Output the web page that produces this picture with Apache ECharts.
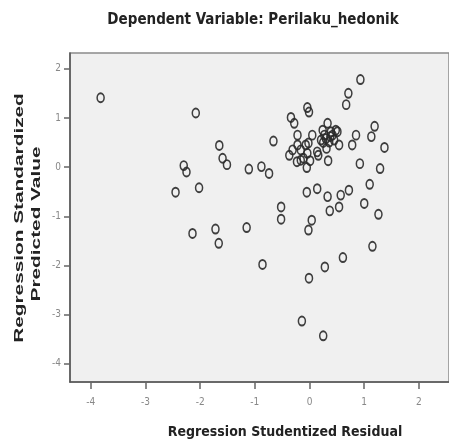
<!DOCTYPE html>
<html>
<head>
<meta charset="utf-8">
<title>Dependent Variable: Perilaku_hedonik</title>
<script src="https://cdn.jsdelivr.net/npm/echarts@6/dist/echarts.min.js"></script>
<style>
    html, body { margin: 0; padding: 0; background: #fff; }
    #charts { width: 449px; height: 444px; }
</style>
</head>
<body>
<div id="charts"></div>
<script>
"use strict";

// studentized residual (x) vs standardized predicted value (y)
var residual = [
    -3.82, -2.08, -1.65, -1.59, -1.51, -2.30, -2.25, -2.45, -2.02, -1.11,
    -0.88, -0.74, -0.66, -0.52, -0.52, -2.14, -1.72, -1.66, -1.15, -0.86,
    -0.05, 0.14, 0.33, 0.57, 0.54, 0.37, 0.72, 0.04, -0.02, 1.00,
    1.10, 1.26, 1.29, 0.92, 1.15, 0.61, 0.28, -0.01, -0.14, 0.25,
    0.93, 0.71, 0.67, -0.04, -0.01, -0.34, -0.28, 1.19, 1.13, 0.85,
    0.78, 0.54, 0.51, 1.37, 0.33, 0.48, 0.39, 0.24, 0.21, 0.30,
    0.36, 0.31, 0.14, 0.05, -0.02, -0.22, -0.22, -0.31, -0.37, -0.16,
    -0.04, -0.11, 0.34, -0.23, 0.01, 0.16, 0.42, 0.27, -0.16, -0.05,
    -0.07, 0.25, 0.38, 0.45
];
var predicted = [
    1.41, 1.10, 0.44, 0.18, 0.05, 0.03, -0.10, -0.51, -0.42, -0.04,
    0.01, -0.13, 0.53, -0.81, -1.06, -1.35, -1.26, -1.55, -1.23, -1.98,
    -0.51, -0.44, -0.60, -0.57, -0.81, -0.89, -0.47, -1.08, -1.28, -0.74,
    -0.35, -0.96, -0.03, 0.07, -1.61, -1.84, -2.03, -2.26, -3.13, -3.43,
    1.78, 1.50, 1.27, 1.21, 1.12, 1.01, 0.89, 0.83, 0.62, 0.65,
    0.45, 0.45, 0.72, 0.40, 0.89, 0.75, 0.72, 0.75, 0.55, 0.58,
    0.51, 0.38, 0.31, 0.65, 0.49, 0.65, 0.45, 0.35, 0.24, 0.35,
    0.28, 0.18, 0.13, 0.11, 0.13, 0.24, 0.65, 0.65, 0.14, -0.01,
    0.45, 0.50, 0.62, 0.55
];
var xTicks = [-4, -3, -2, -1, 0, 1, 2];
var yTicks = [-4, -3, -2, -1, 0, 1, 2];

var points = [];
for (var i = 0; i < residual.length; i++) {
    points.push([residual[i], predicted[i]]);
}

var narrow = '"Liberation Sans Narrow", "DejaVu Sans Condensed", "Liberation Sans", sans-serif';

var dom = document.getElementById("charts");
var myChart = echarts.init(dom, null, { renderer: 'canvas' });
var option = {
    animation: false,
    backgroundColor: '#fff',
    grid: {
        left: 70,
        top: 53,
        right: -4,
        bottom: 62,
        show: true,
        backgroundColor: '#f0f0f0',
        borderColor: '#8a8a8a',
        borderWidth: 1.5
    },
    xAxis: {
        type: 'value',
        min: -4.38,
        max: 2.55,
        splitLine: { show: false },
        axisLine: { show: true, onZero: false, lineStyle: { color: '#555', width: 1.5 } },
        axisTick: { show: true, length: 7, customValues: xTicks, lineStyle: { color: '#666', width: 1.5 } },
        axisLabel: { customValues: xTicks, color: '#888', fontSize: 10, margin: 15, fontFamily: narrow }
    },
    yAxis: {
        type: 'value',
        min: -4.37,
        max: 2.32,
        splitLine: { show: false },
        axisLine: { show: true, onZero: false, lineStyle: { color: '#555', width: 1.5 } },
        axisTick: { show: true, length: 6, customValues: yTicks, lineStyle: { color: '#666', width: 1.5 } },
        axisLabel: { customValues: yTicks, color: '#888', fontSize: 10, margin: 9, fontFamily: narrow }
    },
    graphic: [
        {
            type: 'text',
            x: 253, y: 20,
            style: {
                text: 'Dependent Variable: Perilaku_hedonik',
                font: 'bold 15px ' + narrow,
                fill: '#222',
                textAlign: 'center',
                textVerticalAlign: 'middle'
            }
        },
        {
            type: 'text',
            x: 285, y: 432,
            style: {
                text: 'Regression Studentized Residual',
                font: 'bold 14px ' + narrow,
                fill: '#222',
                textAlign: 'center',
                textVerticalAlign: 'middle'
            }
        },
        {
            type: 'text',
            x: 19, y: 218,
            rotation: Math.PI / 2,
            scaleX: 1.6,
            style: {
                text: 'Regression Standardized',
                font: 'bold 13px "Liberation Sans", Arial, sans-serif',
                fill: '#222',
                textAlign: 'center',
                textVerticalAlign: 'middle'
            }
        },
        {
            type: 'text',
            x: 36, y: 224,
            rotation: Math.PI / 2,
            scaleX: 1.6,
            style: {
                text: 'Predicted Value',
                font: 'bold 13px "Liberation Sans", Arial, sans-serif',
                fill: '#222',
                textAlign: 'center',
                textVerticalAlign: 'middle'
            }
        }
    ],
    series: [
        {
            type: 'scatter',
            data: points,
            symbol: 'circle',
            symbolSize: [7, 9],
            itemStyle: {
                color: 'rgba(0,0,0,0)',
                borderColor: '#2a2a2a',
                borderWidth: 1.7,
                opacity: 0.9
            }
        }
    ]
};

if (option && typeof option === "object") {
    myChart.setOption(option, true);
}
</script>
</body>
</html>
